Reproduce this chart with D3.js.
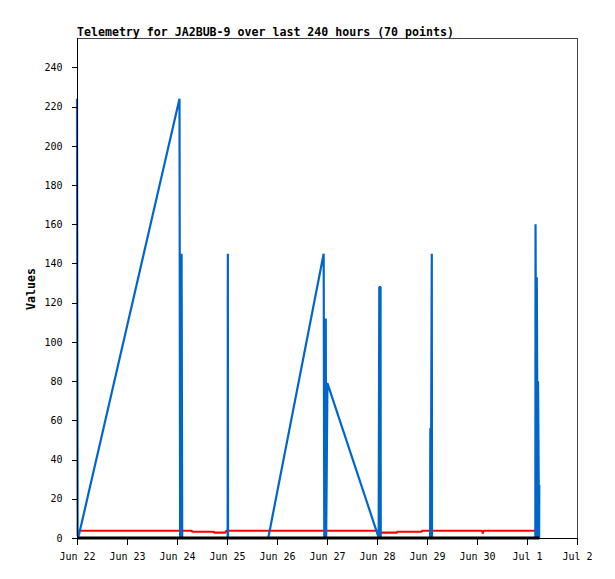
<!DOCTYPE html>
<html>
<head>
<meta charset="utf-8">
<script src="https://cdn.jsdelivr.net/npm/d3@7"></script>
<style>
  html, body { margin: 0; padding: 0; background: #fff; }
  svg { display: block; }
  text { font-family: "DejaVu Sans Mono", "Liberation Mono", monospace; }
</style>
</head>
<body>
<svg id="chart" width="615" height="579"></svg>
<script>
// ---- data ----
const titleText = "Telemetry for JA2BUB-9 over last 240 hours (70 points)";
const yLabel = "Values";
const startDate = Date.UTC(2009, 5, 22); // Jun 22
const endDate = Date.UTC(2009, 6, 2);    // Jul 2
// hours after Jun 22 00:00 for each of the 70 samples
const hours = [0.0, 0.3, 0.8, 49.2, 49.5, 50.0, 50.2, 50.5, 52.0, 55.0,
  55.4, 58.0, 62.0, 65.6, 66.0, 69.0, 71.3, 71.6, 72.3, 72.4,
  72.5, 76.0, 80.0, 84.0, 88.0, 91.8, 118.4, 118.7, 119.3, 119.4,
  119.6, 120.2, 144.4, 144.8, 145.1, 145.7, 145.8, 149.0, 153.4, 153.8,
  157.0, 161.0, 165.3, 165.7, 169.5, 169.6, 169.8, 170.3, 170.4, 174.0,
  178.0, 182.0, 186.0, 190.0, 194.4, 194.8, 195.2, 199.0, 203.0, 207.0,
  211.0, 215.0, 220.0, 220.1, 220.6, 220.7, 221.2, 221.3, 221.8, 221.9];
const blueValues = [224, 1, 1, 224, 0, 0, 145, 0, 0, 0,
  0, 0, 0, 0, 0, 0, 0, 0, 0, 145,
  0, 0, 0, 0, 0, 0, 145, 0, 0, 112,
  0, 79, 1.5, 0, 128, 128, 0, 0, 0, 0,
  0, 0, 0, 0, 0, 56, 0, 145, 0, 0,
  0, 0, 0, 0, 0, 0, 0, 0, 0, 0,
  0, 0, 0, 160, 0, 133, 0, 80, 0, 27];
const redValues = [3.7, 3.7, 3.7, 3.7, 3.7, 3.7, 3.7, 3.7, 3.7, 3.7,
  3.2, 3.2, 3.2, 3.2, 2.7, 2.7, 2.7, 3.7, 3.7, 3.7,
  3.7, 3.7, 3.7, 3.7, 3.7, 3.7, 3.7, 3.7, 3.7, 3.7,
  3.7, 3.7, 3.7, 2.7, 2.7, 2.7, 2.7, 2.7, 2.7, 3.2,
  3.2, 3.2, 3.2, 3.7, 3.7, 3.7, 3.7, 3.7, 3.7, 3.7,
  3.7, 3.7, 3.7, 3.7, 3.7, 2.4, 3.7, 3.7, 3.7, 3.7,
  3.7, 3.7, 3.7, 3.7, 3.7, 3.7, 3.7, 3.7, 3.7, 3.7];
const blackValues = hours.map(() => 0);
const yTicks = [0, 20, 40, 60, 80, 100, 120, 140, 160, 180, 200, 220, 240];

// ---- layout ----
const L = 77, R = 577, T = 38, B = 538;
const svg = d3.select("#chart");

const x = d3.scaleUtc().domain([new Date(startDate), new Date(endDate)]).range([L, R]);
const y = d3.scaleLinear().domain([0, 255]).range([B, T]);
const dates = hours.map(h => new Date(startDate + h * 3600e3));

// frame top/right
svg.append("path")
  .attr("d", `M${L},${T + 0.5}H${R + 0.5}V${B}`)
  .attr("fill", "none").attr("stroke", "#444").attr("stroke-width", 1)
  .attr("shape-rendering", "crispEdges");

// series
function drawSeries(vals, color, w) {
  const line = d3.line().x((d, i) => x(dates[i])).y(d => y(d));
  svg.append("path")
    .datum(vals)
    .attr("d", line)
    .attr("fill", "none")
    .attr("stroke", color)
    .attr("stroke-width", w)
    .attr("stroke-linejoin", "bevel");
}
drawSeries(redValues, "#ff0000", 2.2);
drawSeries(blueValues, "#0066cc", 2.2);
drawSeries(blackValues, "#000000", 3);

// y axis
const yAxis = d3.axisLeft(y).tickValues(yTicks).tickSize(6).tickPadding(9);
const gy = svg.append("g").attr("transform", `translate(${L + 0.5},0)`).call(yAxis);
gy.select(".domain").remove();
gy.selectAll(".tick line").attr("stroke", "#000").attr("shape-rendering", "crispEdges");
gy.selectAll(".tick text").attr("font-size", 10).attr("fill", "#000")
  .attr("font-family", "DejaVu Sans Mono");

// x axis
const xAxis = d3.axisBottom(x).ticks(d3.utcDay.every(1)).tickFormat(d3.utcFormat("%b %-d"))
  .tickSize(6).tickPadding(8);
const gx = svg.append("g").attr("transform", `translate(0,${B + 0.5})`).call(xAxis);
gx.select(".domain").remove();
gx.selectAll(".tick line").attr("stroke", "#000").attr("shape-rendering", "crispEdges");
gx.selectAll(".tick text").attr("font-size", 10).attr("fill", "#000")
  .attr("font-family", "DejaVu Sans Mono");

// axis lines (left, bottom)
svg.append("path")
  .attr("d", `M${L + 0.5},${T}V${B + 0.5}H${R + 1}`)
  .attr("fill", "none").attr("stroke", "#000").attr("stroke-width", 1)
  .attr("shape-rendering", "crispEdges");

// title
svg.append("text")
  .attr("x", L).attr("y", 35.5)
  .attr("font-size", 11.6).attr("font-weight", "bold").attr("fill", "#000")
  .text(titleText);

// y label
svg.append("text")
  .attr("transform", `translate(35,289) rotate(-90)`)
  .attr("text-anchor", "middle")
  .attr("font-size", 11.6).attr("font-weight", "bold").attr("fill", "#000")
  .text(yLabel);
</script>
</body>
</html>
